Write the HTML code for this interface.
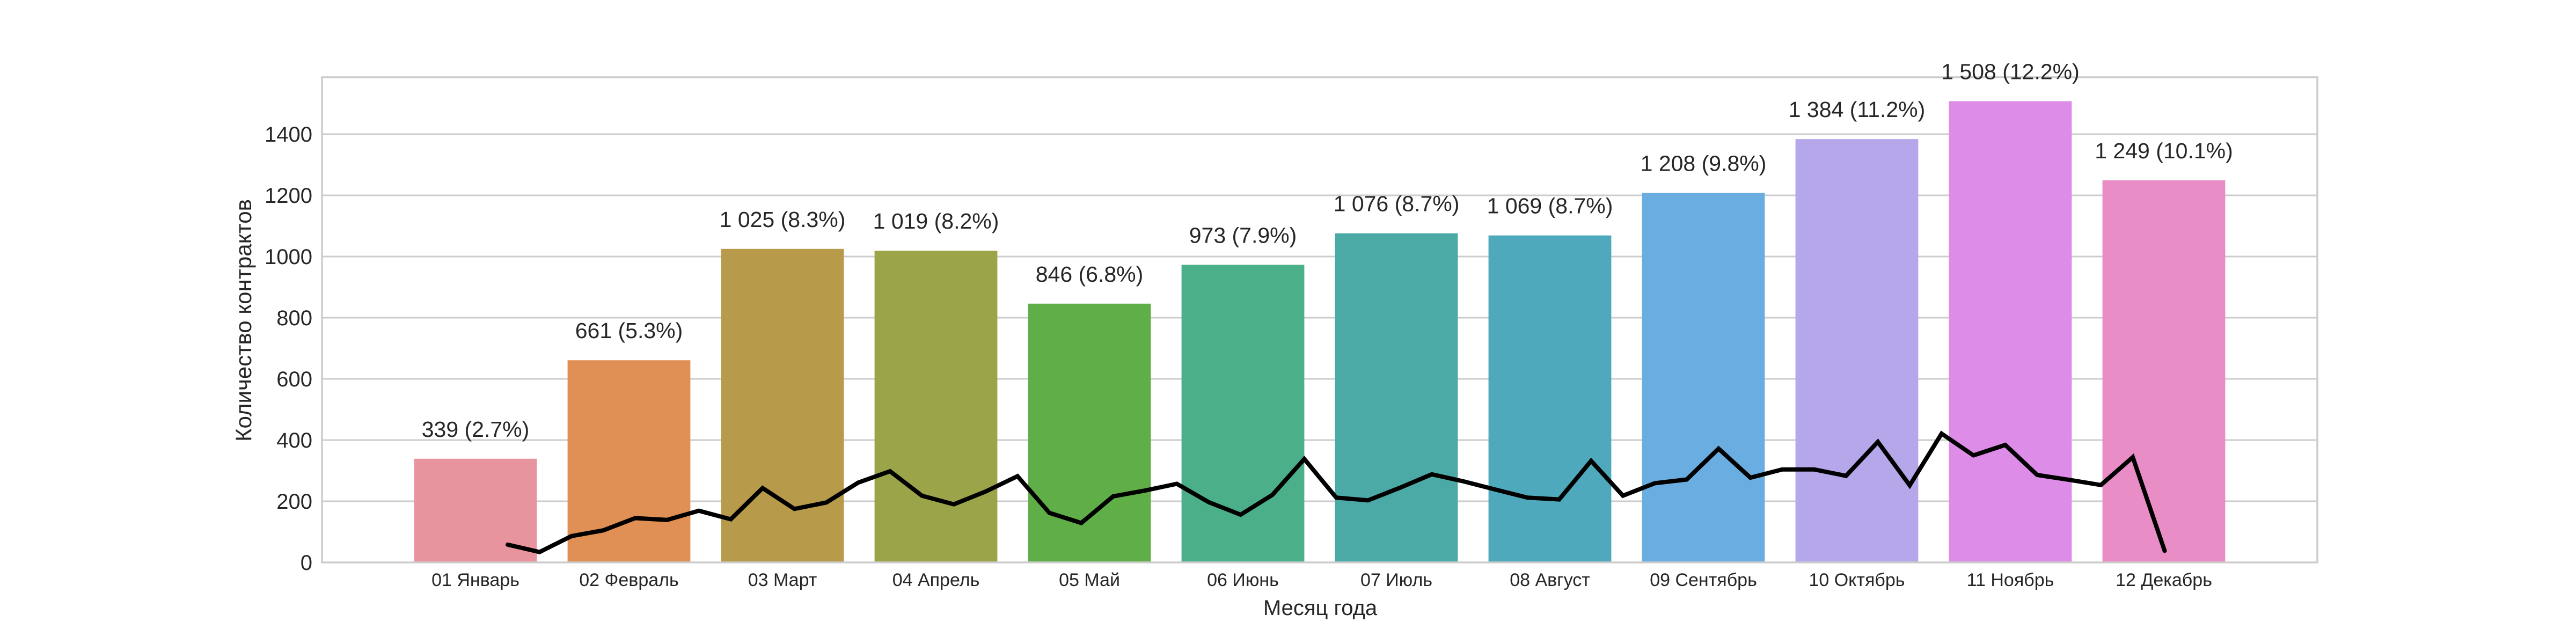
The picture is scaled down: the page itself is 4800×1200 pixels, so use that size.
<!DOCTYPE html>
<html><head><meta charset="utf-8"><style>
html,body{margin:0;padding:0;background:#fff;}
svg{display:block;font-family:"Liberation Sans",Arial,sans-serif;}
</style></head><body>
<svg id="chart" width="4800" height="1200" viewBox="0 0 4800 1200">
<g id="grid"></g>
<g id="bars"></g>
<g id="line"></g>
<g id="frame"></g>
<g id="labels"></g>
<text x="2460" y="1146" font-size="40" fill="#262626" text-anchor="middle">Месяц года</text>
<text x="0" y="0" font-size="42" fill="#262626" text-anchor="middle" transform="translate(468,597) rotate(-90)">Количество контрактов</text>
</svg>
<script>
const categories = ["01 Январь","02 Февраль","03 Март","04 Апрель","05 Май","06 Июнь","07 Июль","08 Август","09 Сентябрь","10 Октябрь","11 Ноябрь","12 Декабрь"];
const barValues = [339,661,1025,1019,846,973,1076,1069,1208,1384,1508,1249];
const barLabels = ["339 (2.7%)","661 (5.3%)","1 025 (8.3%)","1 019 (8.2%)","846 (6.8%)","973 (7.9%)","1 076 (8.7%)","1 069 (8.7%)","1 208 (9.8%)","1 384 (11.2%)","1 508 (12.2%)","1 249 (10.1%)"];
const barColors = ["#e8949f","#e09054","#b79b4a","#9ba448","#60ae47","#4baf8a","#4baaa6","#4fa9bc","#6aade0","#b6a6ea","#dd8ce8","#e88dc5"];
const weeklyValues = [58,34,86,105,145,139,169,141,243,175,196,261,298,218,190,232,282,162,129,216,235,257,197,156,221,338,212,203,244,288,265,238,212,206,332,218,259,271,372,277,304,304,283,394,252,421,350,384,286,270,253,344,38];
const yTicks = [0,200,400,600,800,1000,1200,1400];

const NS="http://www.w3.org/2000/svg";
const L=600,R=4318,T=144,B=1048,YMAX=1586;
const X0=-1, X1=12;
const sx = u => L + (u - X0) * (R - L) / (X1 - X0);
const sy = v => B - v * (B - T) / YMAX;
const step = (R-L)/(X1-X0);
function mk(tag, attrs, parent){const e=document.createElementNS(NS,tag);for(const k in attrs)e.setAttribute(k,attrs[k]);parent.appendChild(e);return e;}

const grid=document.getElementById('grid');
yTicks.forEach(t=>{
  if(t>0){const g=mk('line',{x1:L,x2:R,y1:sy(t),y2:sy(t),stroke:'#cccccc','stroke-width':3},grid);
  
  }
  const tx=mk('text',{x:582,y:sy(t)+14,'font-size':40,fill:'#262626','text-anchor':'end'},document.getElementById('labels'));
  tx.textContent=t;
  
  
});

const bars=document.getElementById('bars'), labels=document.getElementById('labels');
const bw=0.8*step;
barValues.forEach((v,i)=>{
  const cx=sx(i);
  const r=mk('rect',{x:cx-bw/2,y:sy(v),width:bw,height:B-sy(v),fill:barColors[i]},bars);
  
  
  const a=mk('text',{x:cx,y:sy(v)-41,'font-size':41,fill:'#262626','text-anchor':'middle'},labels);
  a.textContent=barLabels[i];
  
  
  const c=mk('text',{x:cx,y:1092,'font-size':34,fill:'#262626','text-anchor':'middle'},labels);
  c.textContent=categories[i];
  
  
});

const pts=weeklyValues.map((v,i)=>sx(0.21+i*0.2076).toFixed(1)+','+sy(v).toFixed(1)).join(' ');
const pl=mk('polyline',{points:pts,fill:'none',stroke:'#000','stroke-width':8,'stroke-linejoin':'miter','stroke-linecap':'round'},document.getElementById('line'));



const fr=mk('rect',{x:L,y:T,width:R-L,height:B-T,fill:'none',stroke:'#cccccc','stroke-width':3.5},document.getElementById('frame'));


</script>
</body></html>
